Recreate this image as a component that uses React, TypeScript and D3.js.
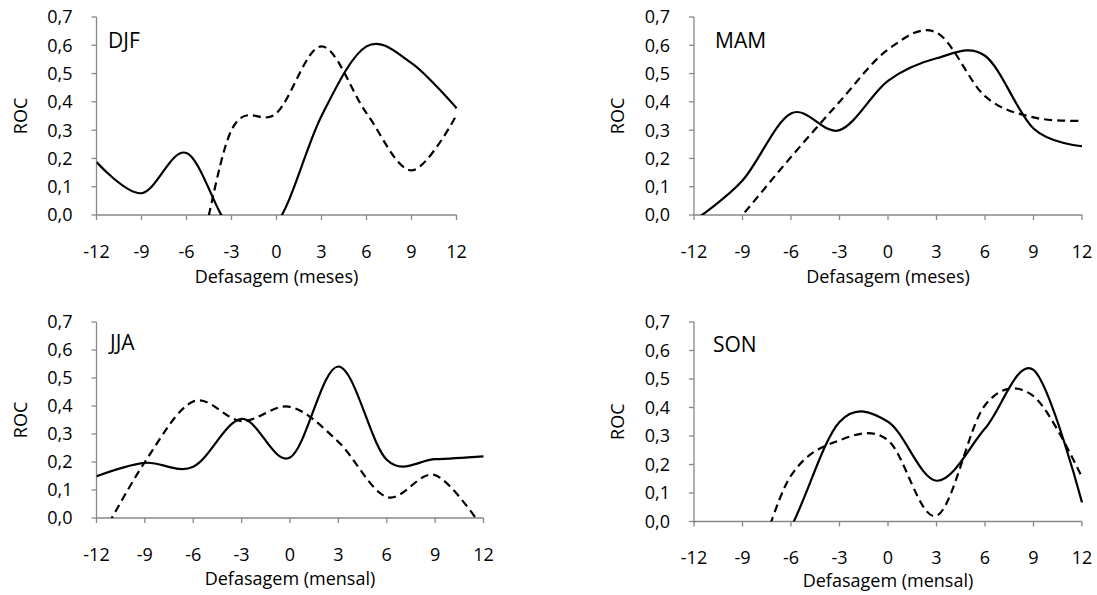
import React from "react";
import * as d3 from "d3";

// ---- data ----
const lags = [-12, -9, -6, -3, 0, 3, 6, 9, 12];
const xTicks = [-12, -9, -6, -3, 0, 3, 6, 9, 12];
const yTicks = [0, 0.1, 0.2, 0.3, 0.4, 0.5, 0.6, 0.7];

const djfSolid = [0.187, 0.077, 0.219, -0.05, -0.03, 0.35, 0.596, 0.537, 0.377];
const djfDashed = [-0.1, -0.2, -0.28, 0.3, 0.36, 0.596, 0.36, 0.158, 0.353];
const mamSolid = [-0.02, 0.122, 0.359, 0.3, 0.474, 0.554, 0.563, 0.306, 0.243];
const mamDashed = [-0.2, 0.0, 0.205, 0.4, 0.585, 0.645, 0.42, 0.345, 0.333];
const jjaSolid = [0.149, 0.197, 0.183, 0.354, 0.216, 0.541, 0.208, 0.21, 0.22];
const jjaDashed = [-0.1, 0.2, 0.416, 0.346, 0.397, 0.272, 0.075, 0.153, -0.04];
const sonSolid = [0, -0.3, -0.02, 0.349, 0.35, 0.143, 0.326, 0.532, 0.067];
const sonDashed = [-0.1, -0.22, 0.161, 0.285, 0.285, 0.02, 0.408, 0.44, 0.155];

const panelNames = ["DJF", "MAM", "JJA", "SON"];
const xTitles = ["Defasagem (meses)", "Defasagem (meses)", "Defasagem (mensal)", "Defasagem (mensal)"];
const yTitle = "ROC";

// ---- layout ----
const layout = [
  { x0: 96.5, x1: 456.5, yb: 215, yt: 17, labX: 108, labY: 48, tickY: 258, titleY: 283 },
  { x0: 694, x1: 1082, yb: 215, yt: 17, labX: 715, labY: 48, tickY: 258, titleY: 283 },
  { x0: 96.5, x1: 483.5, yb: 518, yt: 322, labX: 110, labY: 350, tickY: 561, titleY: 585 },
  { x0: 694, x1: 1082, yb: 521.5, yt: 322, labX: 713, labY: 352, tickY: 564, titleY: 587 },
];
const series = [
  [djfSolid, djfDashed],
  [mamSolid, mamDashed],
  [jjaSolid, jjaDashed],
  [sonSolid, sonDashed],
];

const FONT = "'Open Sans', 'Noto Sans', sans-serif";
const AXIS = "#888888";
const FS = 18;

function Panel({ i }: { i: number }) {
  const L = layout[i];
  const x = d3.scaleLinear().domain([-12, 12]).range([L.x0, L.x1]);
  const y = d3.scaleLinear().domain([0, 0.7]).range([L.yb, L.yt]);
  const line = d3
    .line<number>()
    .x((_, k) => x(lags[k]))
    .y((v) => y(v))
    .curve(d3.curveCardinal.tension(0));
  const [solid, dashed] = series[i];
  const clipId = `clip${i}`;
  return (
    <g>
      <defs>
        <clipPath id={clipId}>
          <rect x={L.x0} y={L.yt - 20} width={L.x1 - L.x0 + 2} height={L.yb - L.yt + 20} />
        </clipPath>
      </defs>
      {/* y axis */}
      <line x1={L.x0} x2={L.x0} y1={y(0)} y2={y(0.7)} stroke={AXIS} strokeWidth={1.3} />
      {yTicks.map((t) => (
        <g key={t}>
          <line x1={L.x0 - 5} x2={L.x0} y1={y(t)} y2={y(t)} stroke={AXIS} strokeWidth={1.3} />
          <text
            x={L.x0 - 24}
            y={y(t)}
            dy="0.36em"
            textAnchor="end"
            fontFamily={FONT}
            fontSize={FS}
            fill="#000"
          >
            {t.toFixed(1).replace(".", ",")}
          </text>
        </g>
      ))}
      {/* x axis */}
      <line x1={L.x0} x2={L.x1} y1={y(0)} y2={y(0)} stroke={AXIS} strokeWidth={1.3} />
      {xTicks.map((t) => (
        <g key={t}>
          <line x1={x(t)} x2={x(t)} y1={y(0)} y2={y(0) + 5} stroke={AXIS} strokeWidth={1.3} />
          <text x={x(t)} y={L.tickY} textAnchor="middle" fontFamily={FONT} fontSize={FS} fill="#000">
            {t}
          </text>
        </g>
      ))}
      <text
        x={(L.x0 + L.x1) / 2}
        y={L.titleY}
        textAnchor="middle"
        fontFamily={FONT}
        fontSize={FS}
        fill="#000"
      >
        {xTitles[i]}
      </text>
      <text
        transform={`translate(${L.x0 - 70},${(L.yb + L.yt) / 2}) rotate(-90)`}
        textAnchor="middle"
        fontFamily={FONT}
        fontSize={FS}
        fill="#000"
      >
        {yTitle}
      </text>
      <text x={L.labX} y={L.labY} fontFamily={FONT} fontSize={21} fill="#000">
        {panelNames[i]}
      </text>
      <g clipPath={`url(#${clipId})`}>
        <path d={line(solid) || ""} fill="none" stroke="#000" strokeWidth={2.2} />
        <path d={line(dashed) || ""} fill="none" stroke="#000" strokeWidth={2.2} strokeDasharray="8,5" />
      </g>
    </g>
  );
}

export default function App() {
  return (
    <svg
      width={1097}
      height={595}
      viewBox="0 0 1097 595"
      style={{ position: "absolute", left: 0, top: 0, background: "#fff" }}
    >
      <rect width={1097} height={595} fill="#fff" />
      {[0, 1, 2, 3].map((i) => (
        <Panel key={i} i={i} />
      ))}
    </svg>
  );
}
